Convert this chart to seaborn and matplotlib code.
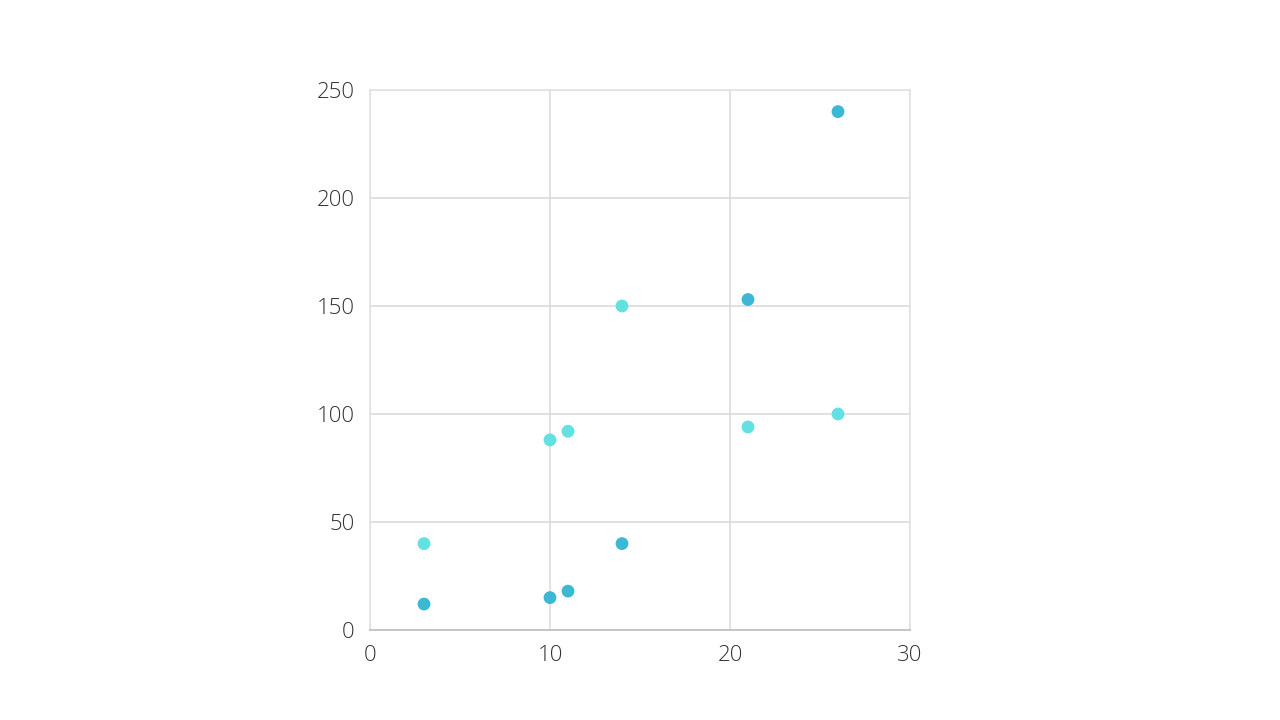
import matplotlib
matplotlib.use("Agg")
import matplotlib.pyplot as plt
import seaborn as sns
import pandas as pd

x_vals = [3, 10, 11, 14, 21, 26]
series_a = [12, 15, 18, 40, 153, 240]
series_b = [40, 88, 92, 150, 94, 100]
x_ticks = [0, 10, 20, 30]
y_ticks = [0, 50, 100, 150, 200, 250]

df = pd.concat([
    pd.DataFrame({"x": x_vals, "y": series_a, "series": "A"}),
    pd.DataFrame({"x": x_vals, "y": series_b, "series": "B"}),
])

sns.set_theme(style="white")
plt.rcParams['font.family'] = ['Open Sans', 'DejaVu Sans']

fig = plt.figure(figsize=(12.8, 7.2), dpi=100)
ax = fig.add_axes([370/1280, 1-630/720, 540/1280, 540/720])

sns.scatterplot(data=df, x="x", y="y", hue="series",
                palette={"A": "#3db8d4", "B": "#62e0e2"},
                s=85, linewidth=0, ax=ax, legend=False, zorder=3)

ax.set_xlim(0, 30)
ax.set_ylim(0, 250)
ax.set_xticks(x_ticks)
ax.set_yticks(y_ticks)
ax.grid(True, color="#d9d9d9", linewidth=1.1)
ax.set_axisbelow(True)
for side in ["top", "right", "left"]:
    ax.spines[side].set_color("#e0e0e0")
    ax.spines[side].set_linewidth(1.1)
ax.spines["bottom"].set_color("#bdbdbd")
ax.spines["bottom"].set_linewidth(1.2)
ax.set_xlabel("")
ax.set_ylabel("")
ax.tick_params(axis="x", length=0, labelsize=16, labelcolor="#333333", pad=11)
ax.tick_params(axis="y", length=0, labelsize=16, labelcolor="#333333", pad=11)
for lbl in ax.get_xticklabels() + ax.get_yticklabels():
    lbl.set_fontweight("light")

fig.savefig("out.png", dpi=100, facecolor="white")
